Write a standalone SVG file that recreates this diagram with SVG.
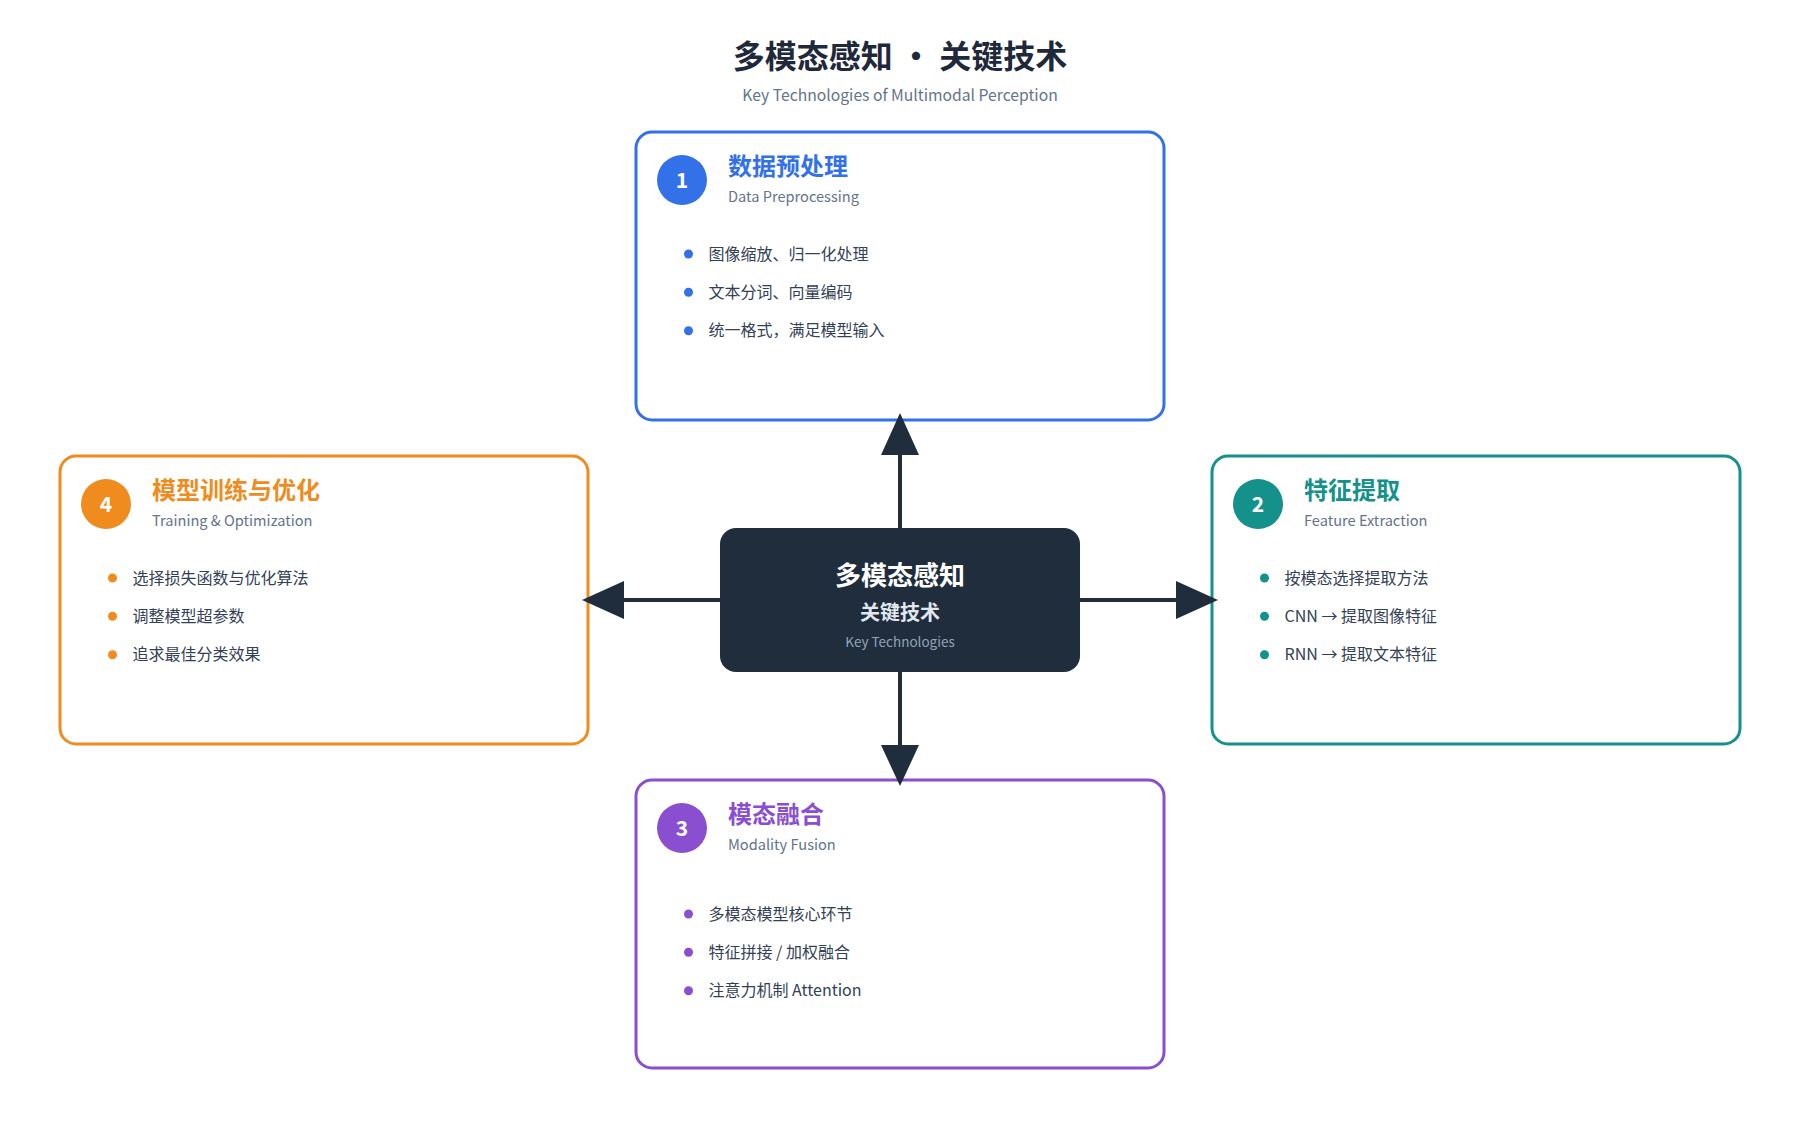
<svg xmlns="http://www.w3.org/2000/svg" width="1800" height="1128" viewBox="0 0 1800 1128">
<style>
text{font-family:"Noto Sans CJK SC","Noto Sans",sans-serif}
.card{fill:#ffffff;stroke-width:3}
.num{fill:#ffffff;font-size:21px;font-weight:700;text-anchor:middle}
.ttl{font-size:24px;font-weight:700}
.sub{font-size:14.6px;fill:#64748b}
.item{font-size:16px;fill:#334155}
.blue{fill:#3271e8}.blueS{stroke:#3271e8}
.teal{fill:#13918a}.tealS{stroke:#13918a}
.purp{fill:#8a4fd1}.purpS{stroke:#8a4fd1}
.orng{fill:#ef8c1d}.orngS{stroke:#ef8c1d}
.conn{stroke:#1f2d3d;stroke-width:4;fill:none}
.head{fill:#1f2d3d}
</style>
<rect width="1800" height="1128" fill="#ffffff"/>
<g id="title">
<text x="900" y="68" text-anchor="middle" font-size="32" font-weight="700" fill="#1e293b">多模态感知 · 关键技术</text>
<text x="900" y="101" text-anchor="middle" font-size="15.7" fill="#64748b">Key Technologies of Multimodal Perception</text>
</g>
<g id="center">
<rect x="720" y="528" width="360" height="144" rx="16" fill="#1f2d3d"/>
<text x="900" y="585" text-anchor="middle" font-size="26" font-weight="700" fill="#ffffff">多模态感知</text>
<text x="900" y="620" text-anchor="middle" font-size="20" font-weight="700" fill="#e2e8f0">关键技术</text>
<text x="900" y="647" text-anchor="middle" font-size="13.5" fill="#94a3b8">Key Technologies</text>
</g>
<g id="node-1" transform="translate(636,132)">
<rect class="card blueS" x="0" y="0" width="528" height="288" rx="16"/>
<circle class="blue" cx="46" cy="48" r="25"/>
<text class="num" x="46" y="55.5">1</text>
<text class="ttl blue" x="92" y="43">数据预处理</text>
<text class="sub" x="92" y="70">Data Preprocessing</text>
<circle class="blue" cx="52.5" cy="122" r="4.5"/>
<text class="item" x="72.5" y="127.5">图像缩放、归一化处理</text>
<circle class="blue" cx="52.5" cy="160.3" r="4.5"/>
<text class="item" x="72.5" y="165.8">文本分词、向量编码</text>
<circle class="blue" cx="52.5" cy="198.7" r="4.5"/>
<text class="item" x="72.5" y="204.2">统一格式，满足模型输入</text>
</g>
<g id="node-2" transform="translate(1212,456)">
<rect class="card tealS" x="0" y="0" width="528" height="288" rx="16"/>
<circle class="teal" cx="46" cy="48" r="25"/>
<text class="num" x="46" y="55.5">2</text>
<text class="ttl teal" x="92" y="43">特征提取</text>
<text class="sub" x="92" y="70">Feature Extraction</text>
<circle class="teal" cx="52.5" cy="122" r="4.5"/>
<text class="item" x="72.5" y="127.5">按模态选择提取方法</text>
<circle class="teal" cx="52.5" cy="160.3" r="4.5"/>
<text class="item" x="72.5" y="165.8">CNN → 提取图像特征</text>
<circle class="teal" cx="52.5" cy="198.7" r="4.5"/>
<text class="item" x="72.5" y="204.2">RNN → 提取文本特征</text>
</g>
<g id="node-3" transform="translate(636,780)">
<rect class="card purpS" x="0" y="0" width="528" height="288" rx="16"/>
<circle class="purp" cx="46" cy="48" r="25"/>
<text class="num" x="46" y="55.5">3</text>
<text class="ttl purp" x="92" y="43">模态融合</text>
<text class="sub" x="92" y="70">Modality Fusion</text>
<circle class="purp" cx="52.5" cy="134" r="4.5"/>
<text class="item" x="72.5" y="139.5">多模态模型核心环节</text>
<circle class="purp" cx="52.5" cy="172.3" r="4.5"/>
<text class="item" x="72.5" y="177.8">特征拼接 / 加权融合</text>
<circle class="purp" cx="52.5" cy="210.7" r="4.5"/>
<text class="item" x="72.5" y="216.2">注意力机制 Attention</text>
</g>
<g id="node-4" transform="translate(60,456)">
<rect class="card orngS" x="0" y="0" width="528" height="288" rx="16"/>
<circle class="orng" cx="46" cy="48" r="25"/>
<text class="num" x="46" y="55.5">4</text>
<text class="ttl orng" x="92" y="43">模型训练与优化</text>
<text class="sub" x="92" y="70">Training &amp; Optimization</text>
<circle class="orng" cx="52.5" cy="122" r="4.5"/>
<text class="item" x="72.5" y="127.5">选择损失函数与优化算法</text>
<circle class="orng" cx="52.5" cy="160.3" r="4.5"/>
<text class="item" x="72.5" y="165.8">调整模型超参数</text>
<circle class="orng" cx="52.5" cy="198.7" r="4.5"/>
<text class="item" x="72.5" y="204.2">追求最佳分类效果</text>
</g>
<g id="connectors">
<line class="conn" x1="900" y1="528" x2="900" y2="454"/>
<polygon class="head" points="900,413 881,455 919,455"/>
<line class="conn" x1="900" y1="672" x2="900" y2="746"/>
<polygon class="head" points="900,786 881,745 919,745"/>
<line class="conn" x1="720" y1="600" x2="623" y2="600"/>
<polygon class="head" points="582,600 624,581 624,619"/>
<line class="conn" x1="1080" y1="600" x2="1177" y2="600"/>
<polygon class="head" points="1218,600 1176,581 1176,619"/>
</g>
</svg>
